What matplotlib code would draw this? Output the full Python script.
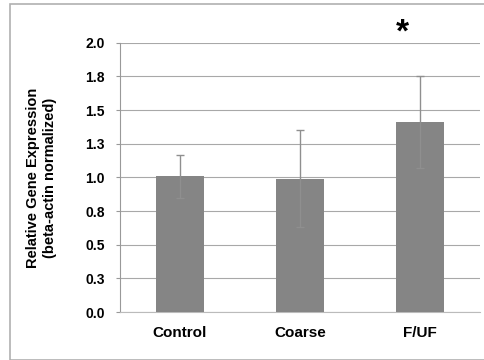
import matplotlib.pyplot as plt
from matplotlib.patches import Rectangle

categories = ['Control', 'Coarse', 'F/UF']
values = [1.01, 0.99, 1.41]
errors = [0.16, 0.36, 0.34]
yticks = [0.0, 0.25, 0.5, 0.75, 1.0, 1.25, 1.5, 1.75, 2.0]
ytick_labels = ['0.0', '0.3', '0.5', '0.8', '1.0', '1.3', '1.5', '1.8', '2.0']

plt.rcParams['font.family'] = ['Liberation Sans', 'DejaVu Sans']

fig = plt.figure(figsize=(4.85, 3.6), dpi=100)
# light frame round the whole chart
fig.patches.append(Rectangle((0.021, 0.0), 0.985, 0.988, transform=fig.transFigure,
                             fill=False, edgecolor='#b0b0b0', linewidth=1.2))
ax = fig.add_axes([0.247, 0.133, 0.743, 0.748])

x = range(len(categories))
ax.bar(x, values, width=0.4, color='#858585', zorder=3)
ax.errorbar(x, values, yerr=errors, fmt='none', ecolor='#8f8f8f',
            elinewidth=1, capsize=3, capthick=1, zorder=4)

ax.set_xlim(-0.5, 2.5)
ax.set_ylim(0, 2.0)
ax.set_yticks(yticks)
ax.set_yticklabels(ytick_labels, fontweight='bold', fontsize=10)
ax.set_xticks(list(x))
ax.set_xticklabels(categories, fontweight='bold', fontsize=11)
ax.tick_params(axis='x', length=0, pad=10)
ax.tick_params(axis='y', length=3, color='#999999', pad=8)
ax.grid(True, axis='y', color='#a8a8a8', linewidth=0.8, zorder=0)

for s in ['top', 'right']:
    ax.spines[s].set_visible(False)
ax.spines['left'].set_color('#999999')
ax.spines['bottom'].set_color('#bbbbbb')

ax.set_ylabel('Relative Gene Expression\n(beta-actin normalized)',
              fontweight='bold', fontsize=10.5, labelpad=20, linespacing=1.3)

ax.text(1.85, 2.07, '*', fontsize=24, fontweight='bold', ha='center', va='center',
        clip_on=False)

fig.savefig('out.png', dpi=100)
